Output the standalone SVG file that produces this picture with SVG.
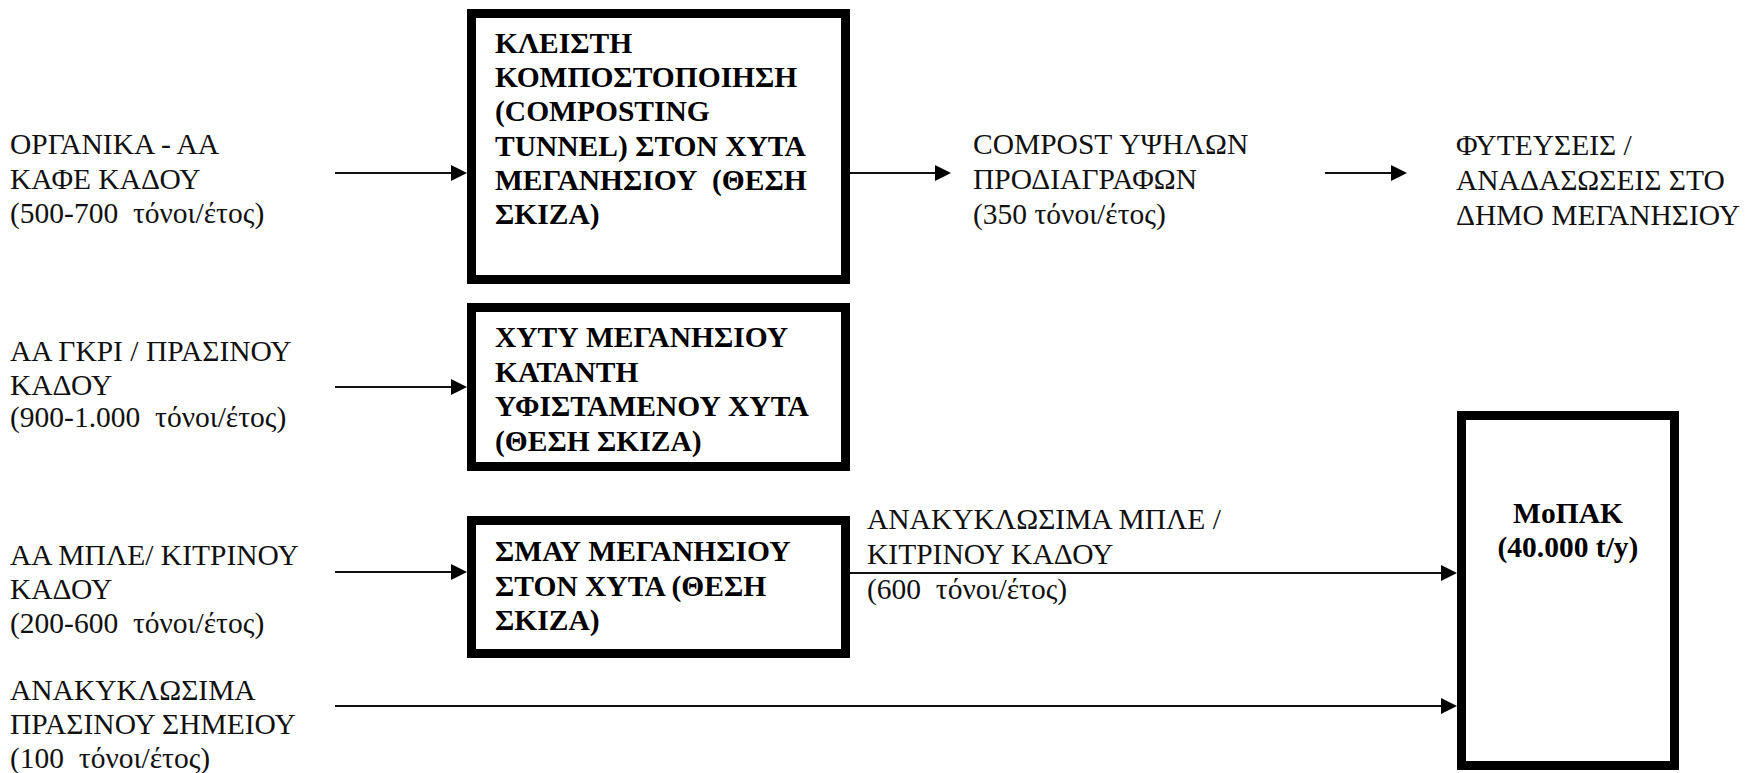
<svg xmlns="http://www.w3.org/2000/svg" width="1750" height="773" viewBox="0 0 1750 773">
<style>
text{font-family:"Liberation Serif","Times New Roman",serif;font-size:29.5px;fill:#111;white-space:pre}
.b{font-weight:bold;fill:#000}
.box{fill:#fff;stroke:#000;stroke-width:9}
.ln{stroke:#111;stroke-width:2;fill:none;marker-end:url(#ah)}
</style>
<defs>
<marker id="ah" markerUnits="userSpaceOnUse" markerWidth="16" markerHeight="16" refX="6" refY="8" orient="auto" viewBox="0 0 16 16">
<path d="M0,0 L16,8 L0,16 z" fill="#000"/>
</marker>
</defs>
<rect x="0" y="0" width="1750" height="773" fill="#fff"/>
<g id="connectors">
<line class="ln" x1="335" y1="173" x2="457" y2="173"/>
<line class="ln" x1="335" y1="387" x2="457" y2="387"/>
<line class="ln" x1="335" y1="572" x2="457" y2="572"/>
<line class="ln" x1="850" y1="173" x2="941" y2="173"/>
<line class="ln" x1="1325" y1="173" x2="1397" y2="173"/>
<line class="ln" x1="850" y1="573" x2="1447" y2="573"/>
<line class="ln" x1="335" y1="706" x2="1447" y2="706"/>
</g>
<g id="in-organic">
<text x="10" y="154">ΟΡΓΑΝΙΚΑ - ΑΑ</text>
<text x="10" y="189">ΚΑΦΕ ΚΑΔΟΥ</text>
<text x="10" y="223" xml:space="preserve">(500-700  τόνοι/έτος)</text>
</g>
<g id="in-grey">
<text x="10" y="361">ΑΑ ΓΚΡΙ / ΠΡΑΣΙΝΟΥ</text>
<text x="10" y="394.5">ΚΑΔΟΥ</text>
<text x="10" y="427" xml:space="preserve">(900-1.000  τόνοι/έτος)</text>
</g>
<g id="in-blue">
<text x="10" y="565">ΑΑ ΜΠΛΕ/ ΚΙΤΡΙΝΟΥ</text>
<text x="10" y="599">ΚΑΔΟΥ</text>
<text x="10" y="633" xml:space="preserve">(200-600  τόνοι/έτος)</text>
</g>
<g id="in-green">
<text x="10" y="700">ΑΝΑΚΥΚΛΩΣΙΜΑ</text>
<text x="10" y="734">ΠΡΑΣΙΝΟΥ ΣΗΜΕΙΟΥ</text>
<text x="10" y="768" xml:space="preserve">(100  τόνοι/έτος)</text>
</g>
<g id="composting">
<rect class="box" x="471.5" y="13.5" width="374" height="266"/>
<text class="b" x="495" y="53">ΚΛΕΙΣΤΗ</text>
<text class="b" x="495" y="87">ΚΟΜΠΟΣΤΟΠΟΙΗΣΗ</text>
<text class="b" x="495" y="121">(COMPOSTING</text>
<text class="b" x="495" y="155.5">TUNNEL) ΣΤΟΝ ΧΥΤΑ</text>
<text class="b" x="495" y="189.5" xml:space="preserve">ΜΕΓΑΝΗΣΙΟΥ  (ΘΕΣΗ</text>
<text class="b" x="495" y="224">ΣΚΙΖΑ)</text>
</g>
<g id="xyty">
<rect class="box" x="471.5" y="307.5" width="374" height="159"/>
<text class="b" x="495" y="347">ΧΥΤΥ ΜΕΓΑΝΗΣΙΟΥ</text>
<text class="b" x="495" y="381.5">ΚΑΤΑΝΤΗ</text>
<text class="b" x="495" y="416">ΥΦΙΣΤΑΜΕΝΟΥ ΧΥΤΑ</text>
<text class="b" x="495" y="450.5">(ΘΕΣΗ ΣΚΙΖΑ)</text>
</g>
<g id="smay">
<rect class="box" x="471.5" y="520.5" width="374" height="133"/>
<text class="b" x="495" y="561">ΣΜΑΥ ΜΕΓΑΝΗΣΙΟΥ</text>
<text class="b" x="495" y="596">ΣΤΟΝ ΧΥΤΑ (ΘΕΣΗ</text>
<text class="b" x="495" y="630">ΣΚΙΖΑ)</text>
</g>
<g id="compost-out">
<text x="973" y="154">COMPOST ΥΨΗΛΩΝ</text>
<text x="973" y="189">ΠΡΟΔΙΑΓΡΑΦΩΝ</text>
<text x="973" y="224">(350 τόνοι/έτος)</text>
</g>
<g id="planting">
<text x="1456" y="155">ΦΥΤΕΥΣΕΙΣ /</text>
<text x="1456" y="190">ΑΝΑΔΑΣΩΣΕΙΣ ΣΤΟ</text>
<text x="1456" y="225">ΔΗΜΟ ΜΕΓΑΝΗΣΙΟΥ</text>
</g>
<g id="recyclables-label">
<text x="867" y="529">ΑΝΑΚΥΚΛΩΣΙΜΑ ΜΠΛΕ /</text>
<text x="867" y="564">ΚΙΤΡΙΝΟΥ ΚΑΔΟΥ</text>
<text x="867" y="598.5" xml:space="preserve">(600  τόνοι/έτος)</text>
</g>
<g id="mopak">
<rect class="box" x="1461.5" y="415.5" width="213" height="350"/>
<text class="b" x="1568" y="523" text-anchor="middle">ΜοΠΑΚ</text>
<text class="b" x="1568" y="557" text-anchor="middle">(40.000 t/y)</text>
</g>
</svg>
